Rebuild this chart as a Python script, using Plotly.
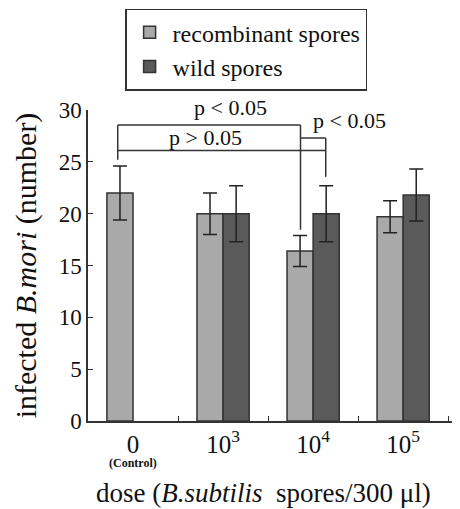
import plotly.graph_objects as go

categories = ["0", "10^3", "10^4", "10^5"]
tick_labels = ["0", "10<sup>3</sup>", "10<sup>4</sup>", "10<sup>5</sup>"]
control_note = "(Control)"
recombinant = [22.0, 20.0, 16.4, 19.7]
recombinant_err = [2.6, 2.0, 1.5, 1.55]
wild = [None, 20.0, 20.0, 21.8]
wild_err = [None, 2.7, 2.7, 2.5]

FONT = "Liberation Serif"

fig = go.Figure()
fig.add_trace(go.Bar(
    x=categories, y=recombinant, name="recombinant spores",
    marker=dict(color="#a9a9a9", line=dict(color="#333333", width=1.5)),
    error_y=dict(type="data", array=recombinant_err, color="#222222", thickness=1.5, width=7),
))
fig.add_trace(go.Bar(
    x=categories, y=wild, name="wild spores",
    marker=dict(color="#5a5a5a", line=dict(color="#333333", width=1.5)),
    error_y=dict(type="data", array=wild_err, color="#222222", thickness=1.5, width=7),
))

# significance brackets (data coordinates)
x_ctrl = -0.17
x_r4 = 1.86
x_w4 = 2.14
line = dict(color="#333333", width=1.5)
def seg(x0, y0, x1, y1):
    fig.add_shape(type="line", xref="x", yref="y", x0=x0, y0=y0, x1=x1, y1=y1, line=line)

seg(x_ctrl, 28.55, x_r4, 28.55)
seg(x_ctrl, 28.55, x_ctrl, 25.2)
seg(x_r4, 28.55, x_r4, 18.45)
seg(x_ctrl, 26.1, x_w4, 26.1)
seg(x_r4, 27.3, x_w4, 27.3)
seg(x_w4, 27.3, x_w4, 23.55)

fig.add_annotation(x=1.08, y=30, xref="x", yref="y", text="p < 0.05", showarrow=False,
                   yshift=3, font=dict(family=FONT, size=22, color="#111"))
fig.add_annotation(x=0.8, y=27.3, xref="x", yref="y", text="p > 0.05", showarrow=False,
                   font=dict(family=FONT, size=22, color="#111"))
fig.add_annotation(x=2.4, y=29.0, xref="x", yref="y", text="p < 0.05", showarrow=False,
                   font=dict(family=FONT, size=22, color="#111"))
fig.add_annotation(x=0, y=-0.165, xref="x", yref="paper", text="<b>" + control_note + "</b>",
                   showarrow=False, font=dict(family=FONT, size=12, color="#111"))

fig.update_layout(
    width=452, height=501,
    margin=dict(l=80, r=1, t=102, b=88, autoexpand=False),
    paper_bgcolor="white", plot_bgcolor="white",
    barmode="group", bargap=0.42, bargroupgap=0,
    font=dict(family=FONT, size=20, color="#111"),
    legend=dict(x=0.1, y=1.326, xanchor="left", yanchor="top",
                bordercolor="#333333", borderwidth=1.5,
                font=dict(family=FONT, size=24), itemwidth=36),
    xaxis=dict(type="category", tickvals=categories, ticktext=tick_labels,
               range=[-0.5, 3.62], tickson="boundaries", ticks="inside", ticklen=5,
               tickcolor="#333", showline=True, linecolor="#333", linewidth=1.5,
               showgrid=False, tickfont=dict(family=FONT, size=25),
               title=dict(text="dose (<i>B.subtilis</i>  spores/300 μl)&nbsp;&nbsp;&nbsp;",
                          font=dict(family=FONT, size=27), standoff=26)),
    yaxis=dict(range=[0, 30], tickvals=[0, 5, 10, 15, 20, 25, 30], ticks="inside", ticklen=5,
               tickcolor="#333", showline=True, linecolor="#333", linewidth=1.5,
               showgrid=False, zeroline=False, tickfont=dict(family=FONT, size=23),
               title=dict(text="infected <i>B.mori</i> (number)",
                          font=dict(family=FONT, size=30), standoff=13)),
)

fig.write_html("out.html")
